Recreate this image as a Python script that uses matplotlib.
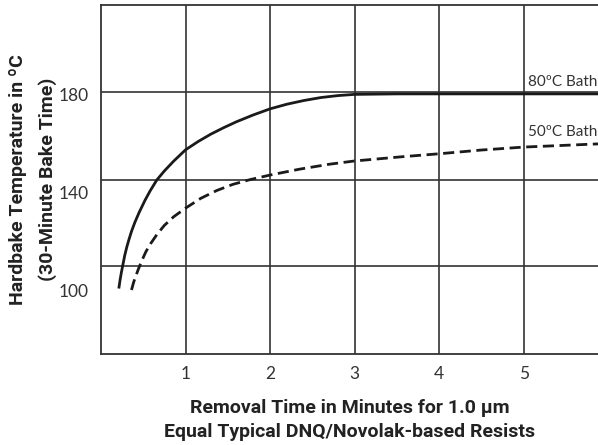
import matplotlib.pyplot as plt

# values
time80 = [0.21, 0.225, 0.24, 0.26, 0.28, 0.305, 0.33, 0.36, 0.4, 0.45, 0.52, 0.58, 0.66, 0.75, 0.86, 1.0, 1.15, 1.3, 1.45, 1.6, 1.8, 2.0, 2.2, 2.4, 2.6, 2.8, 3.0, 3.5, 4.0, 5.0, 5.88]
temp80 = [101.0, 104.5, 107.5, 111.0, 114.5, 118.0, 121.0, 124.3, 128.0, 132.0, 137.0, 140.8, 145.3, 149.0, 153.0, 157.6, 161.0, 164.0, 166.6, 169.0, 171.8, 174.3, 176.2, 177.7, 178.9, 179.7, 180.2, 180.4, 180.4, 180.4, 180.4]
time50 = [0.36, 0.385, 0.41, 0.44, 0.48, 0.53, 0.59, 0.66, 0.75, 0.86, 1.0, 1.18, 1.37, 1.56, 1.76, 2.0, 2.35, 2.7, 2.99, 3.54, 4.01, 4.5, 5.0, 5.88]
temp50 = [100.4, 103.5, 106.0, 108.8, 112.2, 116.0, 119.5, 123.0, 126.8, 130.3, 133.8, 137.8, 141.0, 143.5, 145.4, 147.3, 149.7, 151.7, 153.0, 154.7, 156.0, 157.5, 158.7, 160.0]

xticks = [1, 2, 3, 4, 5]
yticks = [100, 140, 180]
grid_y = [110.2, 145.3, 181.2]

bold = ['Roboto', 'DejaVu Sans']
light = ['Lato', 'DejaVu Sans']

fig = plt.figure(figsize=(5.98, 4.45), dpi=100)
ax = fig.add_axes([0.169, 0.2045, 0.831, 0.7845])

for gx in xticks:
    ax.axvline(gx, color='#333333', lw=1.2, zorder=1)
for gy in grid_y:
    ax.axhline(gy, color='#333333', lw=1.2, zorder=1)

ax.plot(time80, temp80, color='#1a1a1a', lw=2.0, zorder=3, solid_capstyle='butt')
ax.plot(time50, temp50, color='#1a1a1a', lw=2.0, zorder=3, dashes=(4, 2))

ax.text(5.05, 182.2, '80ºC Bath', fontsize=11, family=light, color='#333333',
        va='bottom', ha='left', clip_on=False)
ax.text(5.05, 161.8, '50ºC Bath', fontsize=11, family=light, color='#333333',
        va='bottom', ha='left', clip_on=False)

ax.set_xlim(0, 5.88)
ax.set_ylim(74.3, 216.7)
ax.set_xticks(xticks)
ax.set_yticks(yticks)
ax.tick_params(length=0, labelsize=12.5, labelcolor='#333333', pad=9)
for lab in ax.get_xticklabels() + ax.get_yticklabels():
    lab.set_family(light)

for side in ['left', 'bottom', 'top']:
    ax.spines[side].set_color('#333333')
    ax.spines[side].set_linewidth(1.3)
ax.spines['right'].set_visible(False)

ax.set_xlabel('Removal Time in Minutes for 1.0 µm\nEqual Typical DNQ/Novolak-based Resists',
              fontsize=14, fontweight='bold', family=bold, color='#222222',
              linespacing=1.4, labelpad=12)
ax.set_ylabel('Hardbake Temperature in ºC\n(30-Minute Bake Time)',
              fontsize=14, fontweight='bold', family=bold, color='#222222',
              linespacing=1.75, labelpad=1)

fig.savefig('out.png', dpi=100)
